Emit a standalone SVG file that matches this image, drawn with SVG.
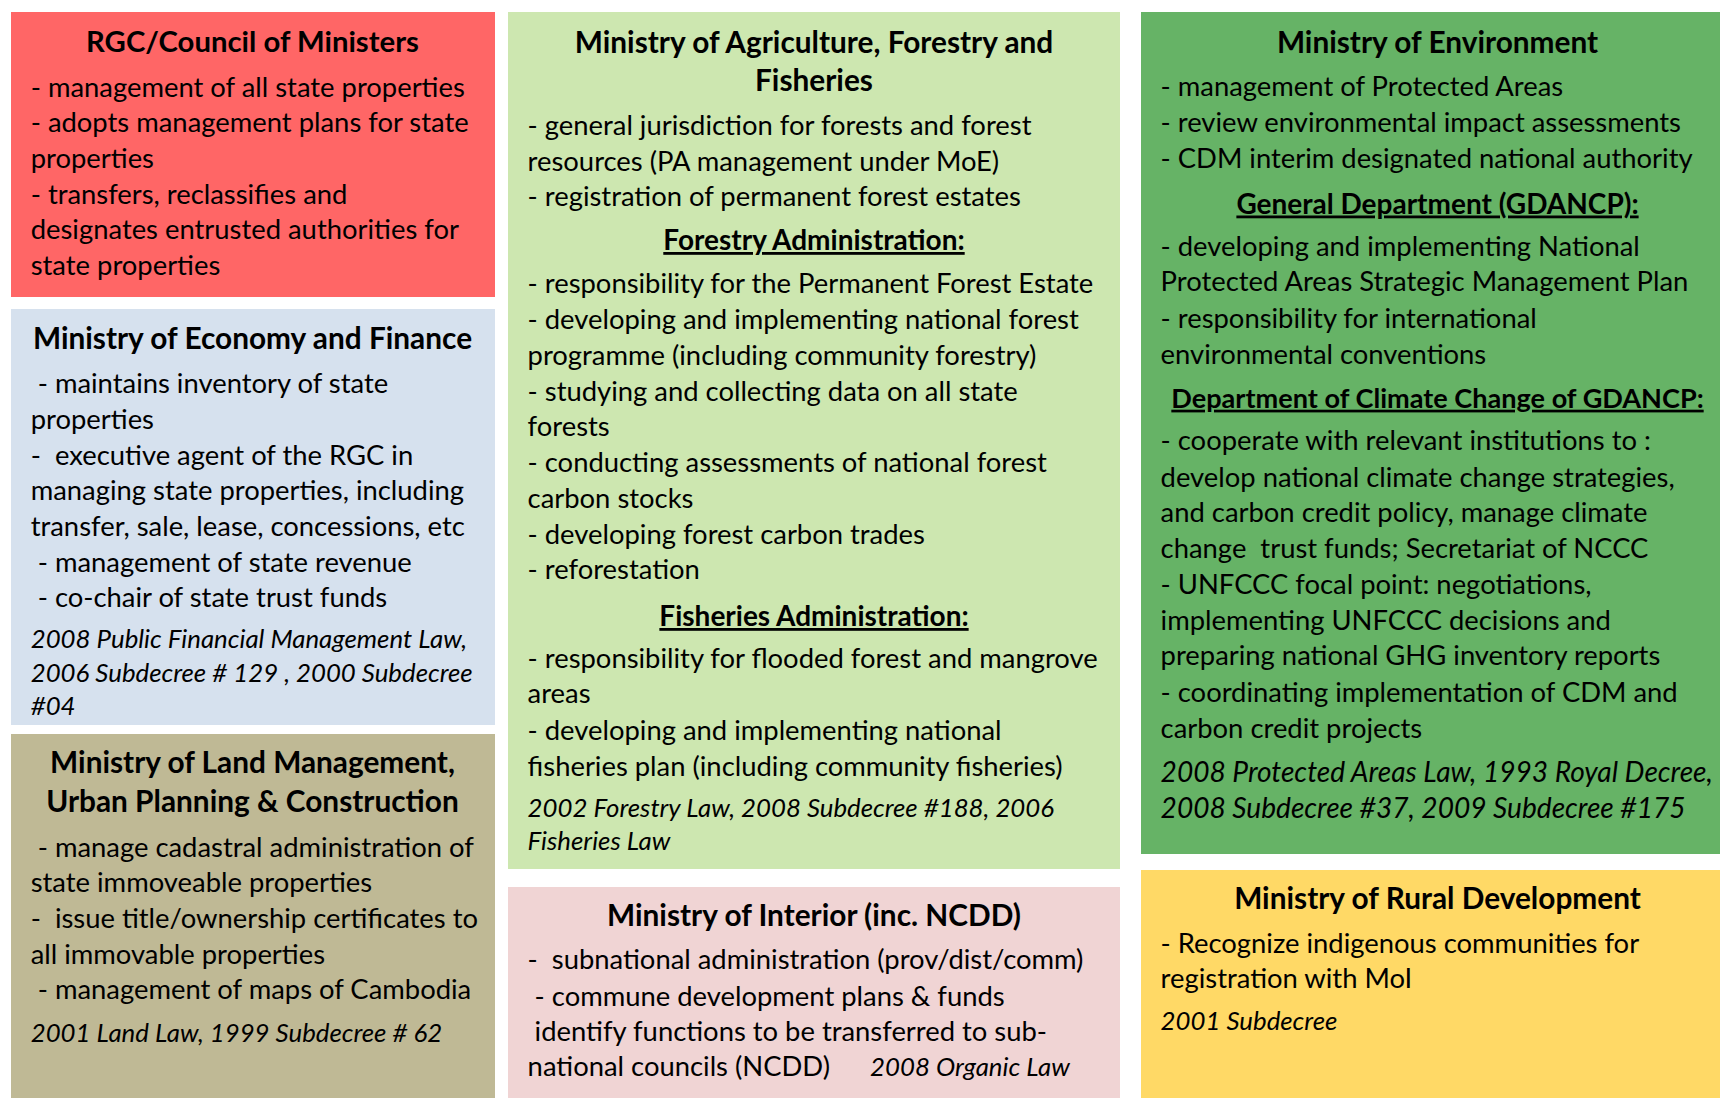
<svg xmlns="http://www.w3.org/2000/svg" width="1720" height="1098" viewBox="0 0 1720 1098">
<style>
text{font-family:Lato,"Liberation Sans",sans-serif;fill:#000;}
.t{font-size:29.8px;font-weight:bold;text-anchor:middle;}
.b{font-size:27.4px;}
.s{font-size:28px;font-weight:bold;text-anchor:middle;text-decoration:underline;}
.i{font-size:25.8px;font-style:italic;}
.I{font-size:28.1px;font-style:italic;}
</style>
<rect width="1720" height="1098" fill="#fff"/>
<g id="rgc">
<rect x="11" y="12" width="484" height="285" fill="#FF6666"/>
<text class="t" x="252.5" y="51.5" style="font-size:29.3px">RGC/Council of Ministers</text>
<text class="b" x="30.7" y="96.7">- management of all state properties</text>
<text class="b" x="30.7" y="132.3">- adopts management plans for state</text>
<text class="b" x="30.7" y="168">properties</text>
<text class="b" x="30.7" y="203.6">- transfers, reclassifies and</text>
<text class="b" x="30.7" y="239.3">designates entrusted authorities for</text>
<text class="b" x="30.7" y="275">state properties</text>
</g>
<g id="mef">
<rect x="11" y="309" width="484" height="416" fill="#D6E1EE"/>
<text class="t" x="252.5" y="349.3">Ministry of Economy and Finance</text>
<text class="b" x="30.7" y="393.3">&#160;- maintains inventory of state</text>
<text class="b" x="30.7" y="428.9">properties</text>
<text class="b" x="30.7" y="464.6">-&#160; executive agent of the RGC in</text>
<text class="b" x="30.7" y="500.2">managing state properties, including</text>
<text class="b" x="30.7" y="535.9">transfer, sale, lease, concessions, etc</text>
<text class="b" x="30.7" y="571.5">&#160;- management of state revenue</text>
<text class="b" x="30.7" y="607.2">&#160;- co-chair of state trust funds</text>
<text class="i" x="30.7" y="648.3">2008 Public Financial Management Law,</text>
<text class="i" x="30.7" y="681.5">2006 Subdecree # 129 , 2000 Subdecree</text>
<text class="i" x="30.7" y="714.7">#04</text>
</g>
<g id="mlm">
<rect x="11" y="734" width="484" height="364" fill="#BFB995"/>
<text class="t" x="252.5" y="773.3">Ministry of Land Management,</text>
<text class="t" x="252.5" y="811.7">Urban Planning &amp; Construction</text>
<text class="b" x="30.7" y="856.7">&#160;- manage cadastral administration of</text>
<text class="b" x="30.7" y="892.3">state immoveable properties</text>
<text class="b" x="30.7" y="928">-&#160; issue title/ownership certificates to</text>
<text class="b" x="30.7" y="963.6">all immovable properties</text>
<text class="b" x="30.7" y="999.3">&#160;- management of maps of Cambodia</text>
<text class="i" x="30.7" y="1041.7">2001 Land Law, 1999 Subdecree # 62</text>
</g>
<g id="maff">
<rect x="508" y="12" width="612" height="857" fill="#CDE7B0"/>
<text class="t" x="814" y="52.7">Ministry of Agriculture, Forestry and</text>
<text class="t" x="814" y="90.7">Fisheries</text>
<text class="b" x="527.6" y="135">- general jurisdiction for forests and forest</text>
<text class="b" x="527.6" y="170.7">resources (PA management under MoE)</text>
<text class="b" x="527.6" y="206.3">- registration of permanent forest estates</text>
<text class="s" x="814" y="250">Forestry Administration:</text>
<text class="b" x="527.6" y="293.3">- responsibility for the Permanent Forest Estate</text>
<text class="b" x="527.6" y="329">- developing and implementing national forest</text>
<text class="b" x="527.6" y="364.8">programme (including community forestry)</text>
<text class="b" x="527.6" y="400.5">- studying and collecting data on all state</text>
<text class="b" x="527.6" y="436.3">forests</text>
<text class="b" x="527.6" y="472">- conducting assessments of national forest</text>
<text class="b" x="527.6" y="507.8">carbon stocks</text>
<text class="b" x="527.6" y="543.5">- developing forest carbon trades</text>
<text class="b" x="527.6" y="579.3">- reforestation</text>
<text class="s" x="814" y="626">Fisheries Administration:</text>
<text class="b" x="527.6" y="667.5">- responsibility for flooded forest and mangrove</text>
<text class="b" x="527.6" y="703.3">areas</text>
<text class="b" x="527.6" y="739.5">- developing and implementing national</text>
<text class="b" x="527.6" y="775.7">fisheries plan (including community fisheries)</text>
<text class="i" x="527.6" y="817">2002 Forestry Law, 2008 Subdecree #188, 2006</text>
<text class="i" x="527.6" y="850">Fisheries Law</text>
</g>
<g id="moi">
<rect x="508" y="887" width="612" height="211" fill="#F0D4D4"/>
<text class="t" x="814" y="925.6">Ministry of Interior (inc. NCDD)</text>
<text class="b" x="527.6" y="969.3">-&#160; subnational administration (prov/dist/comm)</text>
<text class="b" x="527.6" y="1005.5">&#160;- commune development plans &amp; funds</text>
<text class="b" x="527.6" y="1040.6">&#160;identify functions to be transferred to sub-</text>
<text class="b" x="527.6" y="1075.7">national councils (NCDD)</text>
<text class="i" x="870" y="1075.7">2008 Organic Law</text>
</g>
<g id="moe">
<rect x="1141" y="12" width="579" height="842" fill="#66B366"/>
<text class="t" x="1437.5" y="52.5">Ministry of Environment</text>
<text class="b" x="1160.6" y="96">- management of Protected Areas</text>
<text class="b" x="1160.6" y="132">- review environmental impact assessments</text>
<text class="b" x="1160.6" y="168">- CDM interim designated national authority</text>
<text class="s" x="1437.5" y="213.5">General Department (GDANCP):</text>
<text class="b" x="1160.6" y="256.3">- developing and implementing National</text>
<text class="b" x="1160.6" y="291.4">Protected Areas Strategic Management Plan</text>
<text class="b" x="1160.6" y="327.6">- responsibility for international</text>
<text class="b" x="1160.6" y="363.8">environmental conventions</text>
<text class="s" x="1437.5" y="407.7" style="font-size:27.1px">Department of Climate Change of GDANCP:</text>
<text class="b" x="1160.6" y="450.4">- cooperate with relevant institutions to :</text>
<text class="b" x="1160.6" y="486.6">develop national climate change strategies,</text>
<text class="b" x="1160.6" y="521.7">and carbon credit policy, manage climate</text>
<text class="b" x="1160.6" y="557.9">change&#160; trust funds; Secretariat of NCCC</text>
<text class="b" x="1160.6" y="594">- UNFCCC focal point: negotiations,</text>
<text class="b" x="1160.6" y="630.2">implementing UNFCCC decisions and</text>
<text class="b" x="1160.6" y="665.3">preparing national GHG inventory reports</text>
<text class="b" x="1160.6" y="701.5">- coordinating implementation of CDM and</text>
<text class="b" x="1160.6" y="737.7">carbon credit projects</text>
<text class="I" x="1160.6" y="781.5">2008 Protected Areas Law, 1993 Royal Decree,</text>
<text class="I" x="1160.6" y="817.7">2008 Subdecree #37, 2009 Subdecree #175</text>
</g>
<g id="mrd">
<rect x="1141" y="870" width="579" height="228" fill="#FFD966"/>
<text class="t" x="1437.5" y="909">Ministry of Rural Development</text>
<text class="b" x="1160.6" y="952.8">- Recognize indigenous communities for</text>
<text class="b" x="1160.6" y="987.9">registration with MoI</text>
<text class="i" x="1160.6" y="1030">2001 Subdecree</text>
</g>
<g id="connectors"></g>
</svg>
